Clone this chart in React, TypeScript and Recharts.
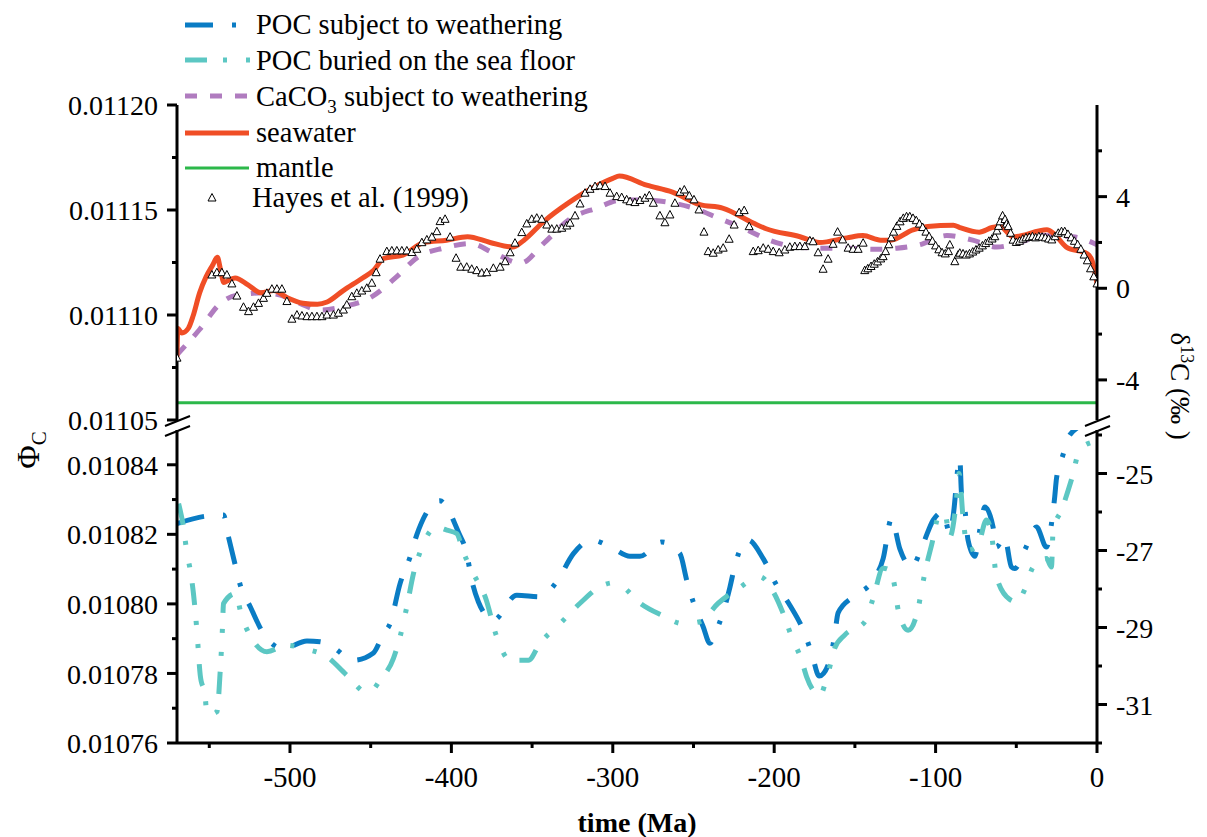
import React from "react";
import { ComposedChart, Line, Scatter, XAxis, YAxis, Legend, Label } from "recharts";

const FONT = "'Liberation Serif', 'DejaVu Serif', serif";

const BLUE = "#0a7cc4";
const TEAL = "#5cc7c3";
const PURPLE = "#b07cbf";
const RED = "#f04e26";
const GREEN = "#2cb84a";

// time (Ma), delta13C (permil)
const seawater: [number, number][] = [
  [-570, -3.0], [-569.5, -1.75], [-567, -1.95], [-563, -1.75], [-560, -1.2], [-556, -0.2], [-552, 0.5],
  [-548, 1.0], [-545, 1.35], [-543, 0.8], [-541, 0.25], [-538, 0.35], [-534, 0.45], [-526, 0.15],
  [-518, -0.2], [-510, -0.1], [-502, -0.4], [-492, -0.65], [-483, -0.7], [-477, -0.6], [-467, -0.1],
  [-455, 0.45], [-448, 0.8], [-442, 1.3], [-430, 1.45], [-417, 2.0], [-403, 2.1], [-390, 2.25],
  [-376, 2.0], [-362, 1.8], [-355, 2.1], [-343, 2.9], [-327, 3.75], [-312, 4.4], [-300, 4.8],
  [-296, 4.9], [-279, 4.5], [-263, 4.2], [-246, 3.65], [-232, 3.5], [-213, 2.85], [-205, 2.6],
  [-184, 2.25], [-172, 2.0], [-155, 2.2], [-145, 2.3], [-134, 2.1], [-128, 2.1], [-114, 2.55],
  [-105, 2.7], [-89, 2.75], [-85, 2.65], [-73, 2.45], [-65, 2.65], [-60, 2.7], [-52, 2.25],
  [-31, 2.55], [-27, 2.4], [-19, 1.8], [-6, 1.5], [-3, 1.2], [0, 0.2],
];

const caco3: [number, number][] = [
  [-570, -2.9], [-556, -1.8], [-543, -0.65], [-533, -0.3], [-516, -0.2], [-506, -0.3], [-496, -0.6],
  [-481, -0.95], [-467, -0.8], [-450, -0.4], [-434, 0.5], [-421, 1.35], [-405, 1.75], [-388, 1.95],
  [-374, 1.55], [-357, 1.1], [-343, 1.95], [-326, 3.05], [-310, 3.5], [-295, 3.85], [-281, 3.85],
  [-265, 3.75], [-250, 3.5], [-234, 3.05], [-217, 2.55], [-203, 2.1], [-186, 1.8], [-172, 1.75],
  [-155, 1.75], [-139, 1.7], [-124, 1.75], [-110, 1.9], [-93, 2.3], [-77, 2.1], [-62, 1.8],
  [-48, 2.0], [-33, 2.3], [-15, 2.25], [0, 1.9],
];

const mantle: [number, number][] = [[-570, -5], [0, -5]];

const hayes: [number, number][] = [
  [-570, -3.05], [-548.4, 0.58], [-545.3, 0.68], [-542.2, 0.68], [-539.1, 0.58], [-536, 0.19],
  [-532.9, -0.34], [-528.8, -0.83], [-525.7, -1.02], [-522.6, -0.83], [-519.5, -0.66], [-516.4, -0.44],
  [-514.3, -0.22], [-511.2, -0.04], [-508.1, -0.04], [-505, -0.04], [-501.9, -0.58], [-498.8, -1.35],
  [-495.7, -1.17], [-492.6, -1.21], [-489.5, -1.24], [-486.4, -1.24], [-483.3, -1.24], [-480.2, -1.24],
  [-477.1, -1.17], [-473.1, -1.17], [-470, -1.09], [-466.9, -0.95], [-464.8, -0.73], [-461.7, -0.37],
  [-458.6, -0.22], [-455.5, -0.12], [-452.4, 0], [-449.3, 0.22], [-446.6, 0.68], [-444.2, 1.27],
  [-440, 1.6], [-436.9, 1.63], [-433.8, 1.63], [-430.7, 1.63], [-427.6, 1.63], [-424.5, 1.56],
  [-421.4, 1.7], [-418.3, 1.99], [-415.2, 2.11], [-412.1, 2.23], [-409, 2.47], [-407, 2.91],
  [-403.9, 3.01], [-400.8, 2.23], [-397.1, 1.31], [-394.2, 0.92], [-390.5, 0.92], [-387.4, 0.83],
  [-384.3, 0.77], [-381.2, 0.66], [-378.1, 0.68], [-374, 0.87], [-369.8, 0.92], [-366.7, 1.16],
  [-363.6, 1.55], [-360.6, 1.97], [-356.4, 2.43], [-353.3, 2.81], [-350.2, 3.01], [-347.1, 3.06],
  [-344, 3.01], [-340.9, 2.76], [-337.8, 2.58], [-334.7, 2.58], [-331.6, 2.62], [-328.5, 2.72],
  [-326.5, 2.84], [-323.4, 3.16], [-320.3, 3.68], [-317.2, 4.15], [-314.1, 4.32], [-311, 4.44],
  [-307.9, 4.47], [-304.8, 4.44], [-301.7, 4.15], [-297.6, 4.0], [-294.5, 3.96], [-291.4, 3.86],
  [-289.3, 3.78], [-286.3, 3.74], [-283.2, 3.83], [-280.1, 3.93], [-277.4, 4.04], [-274.9, 3.71],
  [-270.8, 3.16], [-267.7, 2.86], [-264.6, 3.2], [-261.5, 3.71], [-258.4, 4.19], [-255.7, 4.29],
  [-252.6, 4.03], [-249.7, 3.86], [-246.6, 3.42], [-243.5, 2.45], [-240.9, 1.6], [-237.8, 1.53],
  [-234.7, 1.67], [-231.6, 1.75], [-227.9, 2.14], [-224.8, 2.76], [-221.7, 3.3], [-218.6, 3.39],
  [-215.5, 2.69], [-213, 1.6], [-209.9, 1.64], [-206.8, 1.75], [-203.7, 1.7], [-200.6, 1.6],
  [-196.9, 1.55], [-193.4, 1.67], [-190.3, 1.79], [-187.2, 1.82], [-184.1, 1.82], [-181, 1.82],
  [-177.9, 2.07], [-175.9, 2.03], [-172.8, 1.55], [-169.7, 0.83], [-166.6, 1.27], [-163.5, 1.92],
  [-160.7, 2.45], [-157.6, 2.11], [-154.2, 1.75], [-151.1, 1.7], [-148, 1.7], [-144.9, 1.97],
  [-143.9, 0.77], [-142, 0.85], [-140, 0.95], [-138, 1.05], [-136, 1.15], [-134, 1.28], [-132.5, 1.38],
  [-131, 1.6], [-129, 1.9], [-127.5, 2.2], [-126, 2.45], [-124, 2.7], [-122, 2.9], [-120, 3.05],
  [-118, 3.12], [-116, 3.12], [-114, 3.05], [-112, 2.95], [-110, 2.8], [-108, 2.65], [-106, 2.45],
  [-104, 2.25], [-102, 2.05], [-100, 1.85], [-98, 1.68], [-96, 1.55], [-94, 1.5], [-92, 1.6],
  [-91.2, 1.89], [-88.1, 1.16], [-86, 1.45], [-85, 1.53], [-83, 1.5], [-81, 1.45], [-79, 1.5],
  [-77, 1.58], [-75, 1.67], [-73, 1.75], [-71, 1.85], [-69, 1.95], [-67, 2.05], [-65, 2.15],
  [-63.3, 2.25], [-62, 2.5], [-61, 2.7], [-60, 2.9], [-58.5, 3.16], [-57, 3.0], [-56, 2.8],
  [-55, 2.69], [-53.5, 2.4], [-52, 2.1], [-50, 2.0], [-48, 2.05], [-46, 2.14], [-44, 2.2],
  [-42, 2.22], [-40, 2.25], [-38, 2.2], [-36, 2.25], [-34, 2.23], [-32, 2.2], [-30, 2.15],
  [-28, 2.11], [-26, 2.25], [-24, 2.4], [-22, 2.47], [-20, 2.47], [-18, 2.35], [-16, 2.2],
  [-14, 2.05], [-12, 1.9], [-10, 1.7], [-8, 1.45], [-6, 1.2], [-4, 0.85], [-2, 0.5], [0, 0.19],
];

const pocWeathering: [number, number][] = [
  [-570, -26.3], [-552.5, -26.11], [-541.2, -26.08], [-538.1, -26.65], [-533.9, -27.38], [-530.8, -27.9],
  [-524.6, -28.46], [-516.4, -29.16], [-504, -29.55], [-489.5, -29.35], [-481.3, -29.37], [-473.1, -29.52],
  [-460.7, -29.85], [-448.3, -29.66], [-442.1, -29.16], [-438, -28.9], [-431.8, -27.86], [-425.6, -27.17],
  [-421.5, -26.6], [-415.2, -26.0], [-411.1, -25.76], [-407, -25.71], [-401.9, -25.95], [-395.7, -26.52],
  [-390.5, -27.08], [-387.4, -27.77], [-383.3, -28.33], [-374, -28.81], [-359.5, -28.16], [-345.1, -28.2],
  [-334.7, -27.81], [-324.4, -27.08], [-313.1, -26.73], [-299.7, -26.95], [-289.4, -27.15], [-283.2, -27.15],
  [-269.7, -26.78], [-258.4, -27.08], [-254.2, -27.77], [-250.2, -28.33], [-244, -28.98], [-239.8, -29.41],
  [-236.7, -29.16], [-231.6, -28.6], [-227.4, -27.95], [-224.3, -27.38], [-216.1, -26.73], [-206.8, -27.21],
  [-198.5, -27.9], [-190.3, -28.42], [-182, -29.07], [-176.8, -29.67], [-172.1, -30.26], [-165.5, -29.85],
  [-162.4, -29.16], [-160.4, -28.62], [-151.1, -28.2], [-138.7, -27.77], [-132.5, -27.21], [-127.3, -26.17],
  [-122.2, -26.95], [-114.9, -27.43], [-107.7, -26.82], [-101.5, -26.21], [-95.4, -26.0], [-91.2, -26.56],
  [-89.2, -26.13], [-85, -24.61], [-84, -25.48], [-82, -25.87], [-79.9, -26.73], [-75.7, -27.15],
  [-72.6, -26.47], [-69.5, -25.87], [-64.4, -26.39], [-62.3, -26.91], [-57.2, -26.65], [-53, -27.43],
  [-51, -27.47], [-44.8, -26.99], [-37.5, -26.39], [-31.3, -26.91], [-28.2, -26.3], [-26.2, -25.61],
  [-25.1, -25.13], [-21.1, -24.52], [-16.9, -24.0], [-6, -23.7],
];

const pocBuried: [number, number][] = [
  [-569, -25.78], [-566, -26.39], [-563.8, -27.08], [-561.8, -27.51], [-559.8, -28.12], [-557.7, -29.07],
  [-555.6, -30.24], [-552.5, -30.8], [-551.5, -31.28], [-545.3, -31.19], [-543.2, -30.11], [-541.8, -28.98],
  [-541.2, -28.38], [-533.9, -28.12], [-529.8, -28.72], [-523.6, -29.29], [-514.3, -29.63], [-501.9, -29.46],
  [-491.6, -29.55], [-477.1, -29.76], [-464.8, -30.24], [-451.4, -30.71], [-444.2, -30.37], [-435.9, -29.8],
  [-431.8, -29.24], [-427.6, -28.46], [-423.5, -27.6], [-419.4, -27.04], [-414.2, -26.56], [-409, -26.4],
  [-402.8, -26.47], [-396.7, -26.56], [-392.6, -27.04], [-386.4, -27.6], [-379.1, -28.2], [-371.9, -29.24],
  [-363.6, -29.85], [-352.3, -29.85], [-345.1, -29.41], [-332.7, -28.9], [-320.3, -28.37], [-305.9, -27.9],
  [-299.7, -27.84], [-293.5, -27.95], [-284.2, -28.33], [-269.7, -28.68], [-256.4, -28.9], [-246, -28.85],
  [-234.7, -28.37], [-222.3, -27.99], [-208.9, -27.68], [-200.6, -28.07], [-194.4, -28.64], [-189.2, -29.24],
  [-183, -29.85], [-179.9, -30.28], [-171.7, -30.75], [-166.6, -30.18], [-162.4, -29.53], [-156.2, -29.19],
  [-143.8, -28.85], [-138.7, -28.24], [-132.5, -27.46], [-128.4, -27.51], [-125.3, -27.94], [-123.2, -28.54],
  [-117, -29.07], [-110.8, -28.51], [-108.7, -28.02], [-105.6, -27.38], [-102.5, -26.86], [-97.4, -26.04],
  [-94.3, -26.04], [-91.2, -26.65], [-87.1, -25.69], [-85.5, -25.0], [-83, -26.13], [-79.9, -26.99],
  [-73.7, -26.86], [-68.5, -26.21], [-65.4, -26.56], [-62.3, -27.68], [-54.1, -28.27], [-49.9, -28.33],
  [-44.8, -28.02], [-39.6, -27.43], [-31.3, -27.21], [-28.2, -27.43], [-27.2, -26.47], [-22, -25.95],
  [-15.9, -25.17], [-10.7, -24.39], [-4, -24.2],
];

const X_TICKS = [-550, -500, -450, -400, -350, -300, -250, -200, -150, -100, -50, 0];
const UPPER_LEFT_TICKS = [0.01105, 0.011075, 0.0111, 0.011125, 0.01115, 0.011175, 0.0112];
const UPPER_LEFT_LABELS = ["0.01105", "", "0.01110", "", "0.01115", "", "0.01120"];
const UPPER_RIGHT_TICKS = [-4, -2, 0, 2, 4, 6];
const UPPER_RIGHT_LABELS = ["-4", "", "0", "", "4", ""];
const LOWER_LEFT_TICKS = [0.01076, 0.01077, 0.01078, 0.01079, 0.0108, 0.01081, 0.01082, 0.01083, 0.01084];
const LOWER_LEFT_LABELS = ["0.01076", "", "0.01078", "", "0.01080", "", "0.01082", "", "0.01084"];
const LOWER_RIGHT_TICKS = [-32, -31, -30, -29, -28, -27, -26, -25, -24];
const LOWER_RIGHT_LABELS = ["", "-31", "", "-29", "", "-27", "", "-25", ""];

const toRows = (pts: [number, number][]) => pts.map(([t, v]) => ({ t, v }));

const yTick = (side: "left" | "right", labels: string[]) => (props: any) => {
  const { x, y, index } = props;
  const label = labels[index];
  const dir = side === "left" ? -1 : 1;
  const len = label ? 10 : 5;
  return (
    <g>
      <line x1={x} x2={x + dir * len} y1={y} y2={y} stroke="#000" strokeWidth={3} />
      {label ? (
        <text x={x + dir * 19} y={y} dy="0.36em" textAnchor={side === "left" ? "end" : "start"}
          style={{ fontSize: 28, fontFamily: FONT }} fill="#000">{label}</text>
      ) : null}
    </g>
  );
};

const xTick = (props: any) => {
  const { x, y, payload } = props;
  const major = payload.value % 100 === 0;
  return (
    <g>
      <line x1={x} x2={x} y1={y} y2={y + (major ? 10 : 5)} stroke="#000" strokeWidth={3} />
      {major ? (
        <text x={x} y={y + 44} textAnchor="middle" style={{ fontSize: 29, fontFamily: FONT }} fill="#000">{payload.value}</text>
      ) : null}
    </g>
  );
};

const Triangle = (props: any) => {
  const { cx, cy } = props;
  if (cx == null || cy == null) return null;
  return <path d={`M${cx},${cy - 4.5} L${cx + 4},${cy + 3} L${cx - 4},${cy + 3} Z`} fill="#fff" stroke="#000" strokeWidth={1} />;
};

const LegendGraphic = () => {
  const tx = 256;
  const txt = { style: { fontSize: 28.5, fontFamily: FONT }, fill: "#000" };
  return (
    <svg width={640} height={220}>
      <line x1={185} x2={250} y1={25} y2={25} stroke={BLUE} strokeWidth={5} strokeDasharray="28 19 4 19" />
      <text x={tx} y={34} {...txt}>POC subject to weathering</text>
      <line x1={185} x2={250} y1={60} y2={60} stroke={TEAL} strokeWidth={5} strokeDasharray="22 16 4 19 4 16" />
      <text x={tx} y={70} {...txt}>POC buried on the sea floor</text>
      <line x1={185} x2={250} y1={96} y2={96} stroke={PURPLE} strokeWidth={5} strokeDasharray="12 13" />
      <text x={tx} y={106} {...txt}>CaCO<tspan style={{ fontSize: 19 }} dy={7}>3</tspan><tspan dy={-7}> subject to weathering</tspan></text>
      <line x1={185} x2={249} y1={133} y2={133} stroke={RED} strokeWidth={5} />
      <text x={tx} y={142} {...txt}>seawater</text>
      <line x1={185} x2={249} y1={168} y2={168} stroke={GREEN} strokeWidth={3} />
      <text x={tx} y={177} {...txt}>mantle</text>
      <Triangle cx={212} cy={198} />
      <text x={252} y={207} {...txt}>Hayes et al. (1999)</text>
    </svg>
  );
};

const axisLine = { stroke: "#000", strokeWidth: 3 };

export default function App() {
  return (
    <div style={{ position: "absolute", left: 0, top: 0, width: 1207, height: 837, background: "#fff", fontFamily: FONT }}>
      <div style={{ position: "absolute", left: 0, top: 0 }}>
        <ComposedChart width={1207} height={445} margin={{ top: 105, right: 50, bottom: 25, left: 87 }}>
          <XAxis type="number" dataKey="t" domain={[-570, 0]} allowDataOverflow hide />
          <YAxis yAxisId="left" orientation="left" width={90} type="number" domain={[0.01105, 0.0112]}
            ticks={UPPER_LEFT_TICKS} interval={0} tickSize={0} tickMargin={0} tickLine={false}
            axisLine={axisLine} tick={yTick("left", UPPER_LEFT_LABELS)} allowDataOverflow />
          <YAxis yAxisId="right" orientation="right" width={60} type="number" domain={[-5.75, 8]}
            ticks={UPPER_RIGHT_TICKS} interval={0} tickSize={0} tickMargin={0} tickLine={false}
            axisLine={axisLine} tick={yTick("right", UPPER_RIGHT_LABELS)} allowDataOverflow />
          <Line yAxisId="right" data={toRows(caco3)} dataKey="v" type="monotone" stroke={PURPLE} strokeWidth={5}
            strokeDasharray="12 13" dot={false} activeDot={false} isAnimationActive={false} />
          <Line yAxisId="right" data={toRows(seawater)} dataKey="v" type="monotone" stroke={RED} strokeWidth={5}
            dot={false} activeDot={false} isAnimationActive={false} />
          <Line yAxisId="right" data={toRows(mantle)} dataKey="v" type="linear" stroke={GREEN} strokeWidth={3}
            dot={false} activeDot={false} isAnimationActive={false} />
          <Scatter yAxisId="right" data={toRows(hayes)} dataKey="v" shape={Triangle} isAnimationActive={false} />
          <Legend layout="vertical" align="center" verticalAlign="middle" content={() => <LegendGraphic />}
            wrapperStyle={{ position: "absolute", left: 0, top: 0, width: 640, height: 220 }} />
        </ComposedChart>
      </div>
      <div style={{ position: "absolute", left: 0, top: 425 }}>
        <ComposedChart width={1207} height={412} margin={{ top: 5, right: 50, bottom: 34, left: 87 }}>
          <XAxis type="number" dataKey="t" domain={[-570, 0]} allowDataOverflow ticks={X_TICKS} interval={0}
            tickSize={0} tickMargin={0} tickLine={false} axisLine={axisLine} tick={xTick} height={60}>
            <Label value="time (Ma)" position="bottom" offset={9}
              style={{ fontSize: 28, fontWeight: "bold", fontFamily: FONT }} fill="#000" />
          </XAxis>
          <YAxis yAxisId="left" orientation="left" width={90} type="number" domain={[0.01076, 0.01085]}
            ticks={LOWER_LEFT_TICKS} interval={0} tickSize={0} tickMargin={0} tickLine={false}
            axisLine={axisLine} tick={yTick("left", LOWER_LEFT_LABELS)} allowDataOverflow />
          <YAxis yAxisId="right" orientation="right" width={60} type="number" domain={[-32, -23.87]}
            ticks={LOWER_RIGHT_TICKS} interval={0} tickSize={0} tickMargin={0} tickLine={false}
            axisLine={axisLine} tick={yTick("right", LOWER_RIGHT_LABELS)} allowDataOverflow />
          <Line yAxisId="right" data={toRows(pocWeathering)} dataKey="v" type="monotone" stroke={BLUE} strokeWidth={5}
            strokeDasharray="28 19 4 19" dot={false} activeDot={false} isAnimationActive={false} />
          <Line yAxisId="right" data={toRows(pocBuried)} dataKey="v" type="monotone" stroke={TEAL} strokeWidth={5}
            strokeDasharray="22 16 4 19 4 16" dot={false} activeDot={false} isAnimationActive={false} />
        </ComposedChart>
      </div>
      <svg width={1207} height={837} style={{ position: "absolute", left: 0, top: 0, pointerEvents: "none" }}>
        {/* axis breaks */}
        <line x1={165} y1={426} x2={190} y2={416} stroke="#000" strokeWidth={2} />
        <line x1={165} y1={436} x2={190} y2={426} stroke="#000" strokeWidth={2} />
        <line x1={1085} y1={426} x2={1110} y2={416} stroke="#000" strokeWidth={2} />
        <line x1={1085} y1={436} x2={1110} y2={426} stroke="#000" strokeWidth={2} />
        <text transform="translate(39,450) rotate(-90)" textAnchor="middle" style={{ fontSize: 32, fontFamily: FONT }} fill="#000">
          Φ<tspan style={{ fontSize: 21 }} dy={7}>C</tspan>
        </text>
        <text transform="translate(1171,386) rotate(90)" textAnchor="middle" style={{ fontSize: 27, fontFamily: FONT }} fill="#000">
          δ<tspan style={{ fontSize: 18 }} dy={-10}>13</tspan><tspan dy={10}>C (‰ )</tspan>
        </text>
      </svg>
    </div>
  );
}
